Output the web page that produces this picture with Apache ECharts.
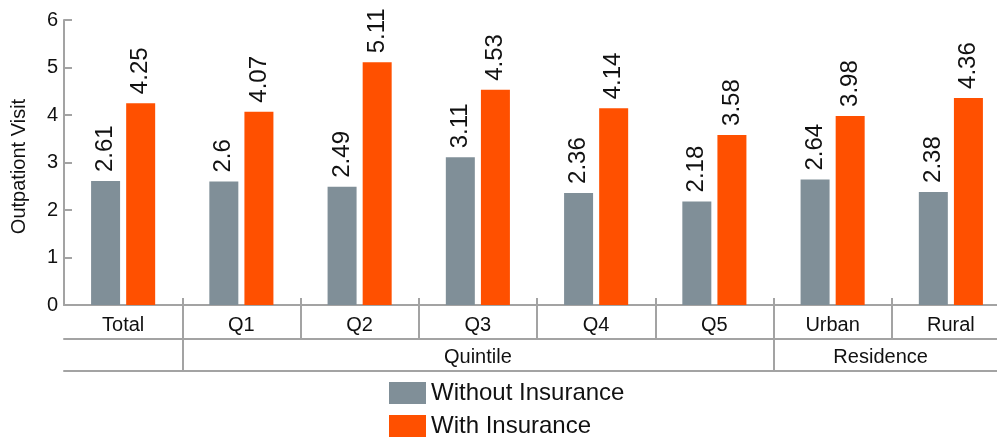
<!DOCTYPE html>
<html>
<head>
<meta charset="utf-8">
<script src="https://cdn.jsdelivr.net/npm/echarts@6/dist/echarts.min.js"></script>
<style>
  html, body { margin: 0; padding: 0; background: #fff; }
  #chart { width: 997px; height: 438px; }
</style>
</head>
<body>
<div id="chart"></div>
<script>
// 数据
const categories = ['Total', 'Q1', 'Q2', 'Q3', 'Q4', 'Q5', 'Urban', 'Rural']
const groupLabels = ['', '', '', 'Quintile', '', '', 'Residence', '']
const withoutInsurance = [2.61, 2.6, 2.49, 3.11, 2.36, 2.18, 2.64, 2.38]
const withInsurance = [4.25, 4.07, 5.11, 4.53, 4.14, 3.58, 3.98, 4.36]
const yTicks = { min: 0, max: 6, interval: 1 }

const lineGray = '#a3a3a3'
const font = 'Liberation Sans, Arial, sans-serif'

const chart = echarts.init(document.getElementById('chart'))

const valueLabel = {
  show: true,
  position: 'top',
  rotate: 90,
  align: 'left',
  verticalAlign: 'middle',
  distance: 9,
  fontSize: 24,
  fontFamily: font,
  color: '#111'
}

let option = {
  animation: false,
  legend: {
    orient: 'vertical',
    left: 389,
    top: 381,
    height: 70,
    padding: 0,
    itemWidth: 37,
    itemHeight: 22,
    itemGap: 9,
    icon: 'rect',
    textStyle: { fontSize: 24, lineHeight: 22, fontFamily: font, color: '#111' },
    data: ['Without Insurance', 'With Insurance']
  },
  grid: {
    left: 64,
    top: 20,
    width: 946,
    bottom: 133,
    outerBoundsMode: 'none'
  },
  xAxis: [
    {
      // 类别轴（上方小刻度）
      type: 'category',
      data: categories,
      position: 'bottom',
      axisLine: { show: true, lineStyle: { color: lineGray, width: 2 } },
      axisTick: { show: true, inside: true, length: 7, lineStyle: { color: lineGray, width: 2 } },
      axisLabel: { interval: 0, margin: 10, fontSize: 20, fontFamily: font, color: '#111' }
    },
    {
      // 第一行分隔线
      type: 'category',
      data: categories,
      position: 'bottom',
      offset: 0,
      axisLine: { show: false },
      axisTick: { show: true, length: 33, interval: (i) => i > 0, lineStyle: { color: lineGray, width: 2 } },
      axisLabel: { show: false }
    },
    {
      // 分组行
      type: 'category',
      data: categories,
      position: 'bottom',
      offset: 34,
      axisLine: { show: true, lineStyle: { color: lineGray, width: 2 } },
      axisTick: { show: true, length: 32, interval: (i) => i === 1 || i === 6, lineStyle: { color: lineGray, width: 2 } },
      axisLabel: {
        interval: 0,
        margin: 8,
        fontSize: 20,
        fontFamily: font,
        color: '#111',
        formatter: (v, i) => i === 6 ? '{r|' + groupLabels[i] + '}' : groupLabels[i],
        rich: { r: { fontSize: 20, fontFamily: font, color: '#111', padding: [0, 0, 0, 96] } }
      }
    },
    {
      // 底线
      type: 'category',
      data: categories,
      position: 'bottom',
      offset: 66,
      axisLine: { show: true, lineStyle: { color: lineGray, width: 2 } },
      axisTick: { show: false },
      axisLabel: { show: false }
    }
  ],
  yAxis: {
    type: 'value',
    min: yTicks.min,
    max: yTicks.max,
    interval: yTicks.interval,
    name: 'Outpationt Visit',
    nameLocation: 'middle',
    nameRotate: 90,
    nameGap: 35,
    nameTextStyle: { fontSize: 20, fontFamily: font, color: '#111', padding: [0, 8, 0, 0] },
    axisLine: { show: true, lineStyle: { color: lineGray, width: 2 } },
    axisTick: { show: true, inside: true, length: 8, lineStyle: { color: lineGray, width: 2 } },
    axisLabel: { margin: 6, fontSize: 20, fontFamily: font, color: '#111' },
    splitLine: { show: false }
  },
  series: [
    {
      name: 'Without Insurance',
      type: 'bar',
      barWidth: 29,
      barGap: '21%',
      itemStyle: { color: '#808f98' },
      label: valueLabel,
      data: withoutInsurance
    },
    {
      name: 'With Insurance',
      type: 'bar',
      barWidth: 29,
      barGap: '21%',
      itemStyle: { color: '#ff5000' },
      label: valueLabel,
      data: withInsurance
    }
  ]
}

chart.setOption(option)
</script>
</body>
</html>
